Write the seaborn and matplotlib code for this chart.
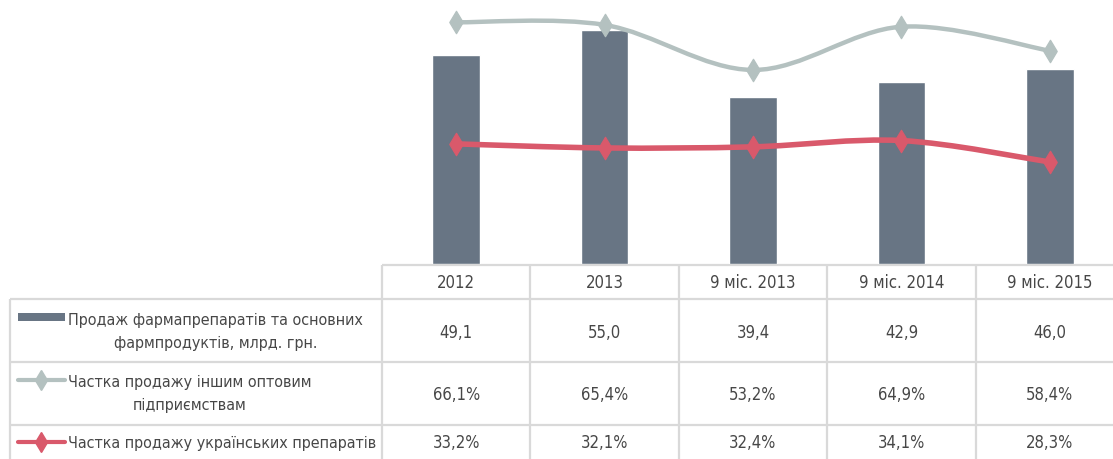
import matplotlib
matplotlib.use('Agg')
import matplotlib.pyplot as plt
import matplotlib.transforms as mtransforms
from matplotlib.path import Path
from matplotlib.patches import PathPatch
from matplotlib.lines import Line2D
import numpy as np
import pandas as pd
import seaborn as sns

# Data
periods = ['2012', '2013', '9 міс. 2013', '9 міс. 2014', '9 міс. 2015']
sales = [49.1, 55.0, 39.4, 42.9, 46.0]
share_other = [66.1, 65.4, 53.2, 64.9, 58.4]
share_ukr = [33.2, 32.1, 32.4, 34.1, 28.3]

row_labels = ['Продаж фармапрепаратів та основних\nфармпродуктів, млрд. грн.',
              'Частка продажу іншим оптовим\nпідприємствам',
              'Частка продажу українських препаратів']

bar_color = '#687584'
grey_color = '#b4c1c0'
red_color = '#d9596b'
grid_color = '#d9d9d9'
text_color = '#474747'

sns.set_style('white')
plt.rcParams['font.family'] = ['DejaVu Sans']
plt.rcParams['font.stretch'] = 'condensed'

W, H = 1113, 460
fig = plt.figure(figsize=(W / 100, H / 100), dpi=100)

# overlay axes in pixel coordinates for the table
ov = fig.add_axes([0, 0, 1, 1])
ov.set_xlim(0, W)
ov.set_ylim(H, 0)
ov.axis('off')

# main chart area
left, right, top, bottom = 382, 1124, 0, 265
ax = fig.add_axes([left / W, (H - bottom) / H, (right - left) / W, (bottom - top) / H])
df = pd.DataFrame({'period': periods, 'sales': sales})
sns.barplot(data=df, x='period', y='sales', color=bar_color, saturation=1,
            width=0.32, ax=ax)
ax.set_xlim(-0.5, 4.5)
ax.set_ylim(0, 62.4)
ax.axis('off')

ax2 = ax.twinx()
ax2.set_ylim(0.7, 72.4)
ax2.axis('off')


def smooth_path(xs, ys):
    # Catmull-Rom style bezier through the points
    pts = np.column_stack([xs, ys]).astype(float)
    ext = np.vstack([pts[0], pts, pts[-1]])
    verts = [tuple(pts[0])]
    codes = [Path.MOVETO]
    for i in range(len(pts) - 1):
        p0, p1, p2, p3 = ext[i], ext[i + 1], ext[i + 2], ext[i + 3]
        c1 = p1 + (p2 - p0) / 6
        c2 = p2 - (p3 - p1) / 6
        verts += [tuple(c1), tuple(c2), tuple(p2)]
        codes += [Path.CURVE4] * 3
    return Path(verts, codes)


xpos = np.arange(len(periods))
for vals, col, lw in [(share_other, grey_color, 3.2), (share_ukr, red_color, 4.0)]:
    ax2.add_patch(PathPatch(smooth_path(xpos, vals), facecolor='none',
                            edgecolor=col, lw=lw, capstyle='round'))
    sns.scatterplot(x=xpos, y=vals, marker='d', s=130, color=col,
                    edgecolor=col, ax=ax2, zorder=5)
ax2.set_xlim(-0.5, 4.5)

# table grid
kw = dict(color=grid_color, lw=1.6, solid_capstyle='butt')
ov.plot([left, W], [266, 266], **kw)
for y in [300, 363, 426]:
    ov.plot([10, W], [y, y], **kw)
ov.plot([10, 10], [300, H], **kw)
blend = mtransforms.blended_transform_factory(ax.transData, ov.transData)
for i in range(len(periods) + 1):
    ov.plot([i - 0.5, i - 0.5], [266, H], transform=blend, **kw)

# table texts
fs = 12
row_y = [333, 395, 443]
for i, p in enumerate(periods):
    ov.text(i, 283, p, transform=blend, ha='center', va='center',
            fontsize=fs, color=text_color)
    ov.text(i, row_y[0], f'{sales[i]:.1f}'.replace('.', ','), transform=blend,
            ha='center', va='center', fontsize=fs, color=text_color)
    ov.text(i, row_y[1], f'{share_other[i]:.1f}%'.replace('.', ','), transform=blend,
            ha='center', va='center', fontsize=fs, color=text_color)
    ov.text(i, row_y[2], f'{share_ukr[i]:.1f}%'.replace('.', ','), transform=blend,
            ha='center', va='center', fontsize=fs, color=text_color)

label_y = [332, 394, 443]
for lab, y in zip(row_labels, label_y):
    ov.text(68, y, lab, ha='left', va='center', multialignment='center',
            fontsize=11.5, color=text_color, linespacing=1.65)

# legend swatches
ov.add_patch(plt.Rectangle((18, 314), 47, 8, color=bar_color, lw=0))
for y, col in [(381, grey_color), (443, red_color)]:
    ov.add_line(Line2D([18, 65], [y, y], color=col, lw=3))
    ov.add_line(Line2D([41], [y], marker='d', markersize=10, color=col, lw=0))

fig.savefig('out.png', dpi=100)
